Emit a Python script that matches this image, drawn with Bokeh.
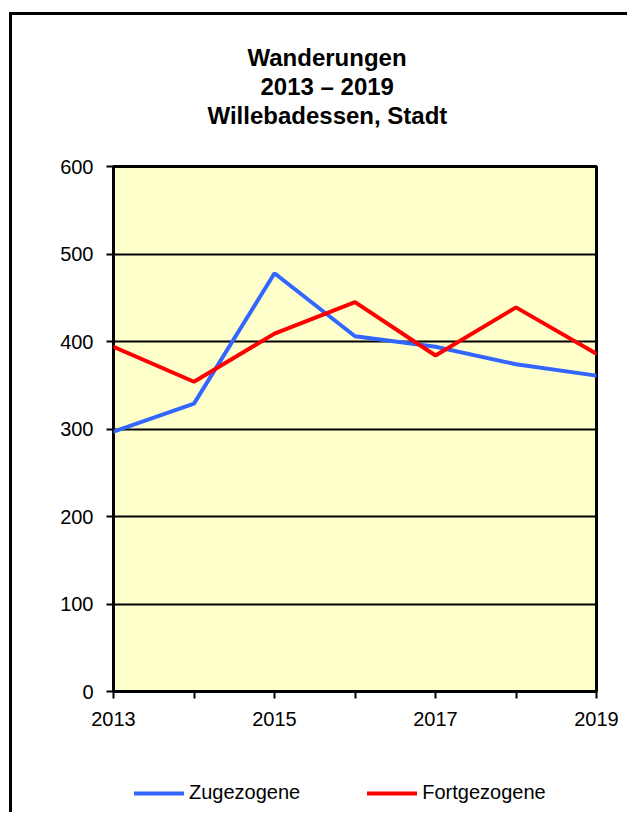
from bokeh.plotting import figure
from bokeh.models import Range1d, Title, Legend, LegendItem, FixedTicker
from bokeh.layouts import column
from bokeh.embed import file_html
from bokeh.resources import INLINE

years = [2013, 2014, 2015, 2016, 2017, 2018, 2019]
zugezogene = [297, 329, 478, 406, 394, 374, 361]
fortgezogene = [394, 354, 409, 445, 384, 439, 386]
y_ticks = [0, 100, 200, 300, 400, 500, 600]
x_labels = {2013: "2013", 2014: "", 2015: "2015", 2016: "", 2017: "2017", 2018: "", 2019: "2019"}
title_lines = ["Wanderungen", "2013 \u2013 2019", "Willebadessen, Stadt"]
series_names = ["Zugezogene", "Fortgezogene"]
series_colors = ["#3366FF", "#FF0000"]

FONT = "Liberation Sans"

p = figure(width=618, height=745, output_backend="svg", toolbar_location=None,
           x_range=Range1d(2013, 2019), y_range=Range1d(0, 600),
           min_border_left=101, min_border_right=34, min_border_top=151, min_border_bottom=69)
p.title = None

p.background_fill_color = "#FFFFCC"
p.border_fill_color = "white"
p.outline_line_color = "black"
p.outline_line_width = 3

# spacer + titles (first added is nearest the frame)
p.add_layout(Title(text=" ", text_font_size="1px", standoff=35), "above")
offsets = [134, 147, 94]
for txt, off in reversed(list(zip(title_lines, offsets))):
    p.add_layout(Title(text=txt, text_font=FONT, text_font_size="24px", text_font_style="bold",
                       align="left", offset=off, standoff=0, text_color="black"), "above")

r1 = p.line(years, zugezogene, line_color=series_colors[0], line_width=4, line_cap="round")
r2 = p.line(years, fortgezogene, line_color=series_colors[1], line_width=4, line_cap="round")

p.xgrid.grid_line_color = None
p.ygrid.grid_line_color = "black"
p.ygrid.grid_line_width = 2
p.yaxis.ticker = FixedTicker(ticks=y_ticks)
p.xaxis.ticker = FixedTicker(ticks=years)
p.xaxis.major_label_overrides = x_labels

for ax in (p.xaxis[0], p.yaxis[0]):
    ax.axis_line_color = None
    ax.major_tick_line_color = "black"
    ax.major_tick_line_width = 2
    ax.major_tick_out = 7
    ax.major_tick_in = 0
    ax.minor_tick_line_color = None
    ax.major_label_text_font = FONT
    ax.major_label_text_font_size = "20px"
    ax.major_label_text_color = "black"
p.yaxis.major_label_standoff = 13
p.xaxis.major_label_standoff = 13

# legend strip as a second figure (its frame is aligned with the main frame by the column)
p2 = figure(width=618, height=55, output_backend="svg", toolbar_location=None,
            x_axis_type=None, y_axis_type=None, min_border=0,
            x_range=Range1d(0, 1), y_range=Range1d(0, 1))
p2.title = None
p2.outline_line_color = None
p2.background_fill_color = "white"
p2.border_fill_color = "white"
# same series drawn out of view; only their legend glyphs show
l1 = p2.line(years, zugezogene, line_color=series_colors[0], line_width=4, line_cap="round")
l2 = p2.line(years, fortgezogene, line_color=series_colors[1], line_width=4, line_cap="round")

legend = Legend(items=[LegendItem(label=series_names[0], renderers=[l1]),
                       LegendItem(label=series_names[1], renderers=[l2])],
                orientation="horizontal", location=(21, 11),
                label_text_font=FONT, label_text_font_size="20px", label_text_color="black",
                glyph_width=50, glyph_height=20, label_standoff=5, spacing=67,
                padding=0, margin=0, border_line_color=None, background_fill_alpha=0)
p2.add_layout(legend, "center")

layout = column(p, p2, spacing=0,
                styles={"margin-left": "12px", "margin-top": "15px",
                        "box-shadow": "-3px -3px 0 0 black"})

open("out.html", "w").write(file_html(layout, INLINE))
